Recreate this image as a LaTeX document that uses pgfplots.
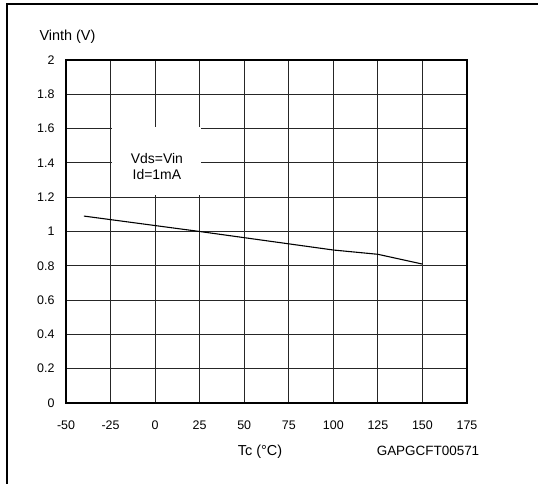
\documentclass[border=0pt]{standalone}
\usepackage{pgfplots}
\pgfplotsset{compat=1.18}
\usepackage{fontspec}
\setmainfont{Liberation Sans}
\begin{document}
\begin{tikzpicture}[x=1bp,y=1bp]
\useasboundingbox (0,0) rectangle (538,484);
\draw[line width=1.8bp] (7,0) -- (7,480) -- (538,480);
\begin{axis}[at={(66bp,81bp)}, anchor=south west, scale only axis,
  width=401bp, height=343bp,
  xmin=-50, xmax=175, ymin=0, ymax=2,
  xtick={-50,-25,0,25,50,75,100,125,150,175},
  xticklabels={-50,-25,0,25,50,75,100,125,150,175},
  ytick={0,0.2,0.4,0.6,0.8,1,1.2,1.4,1.6,1.8,2},
  yticklabels={0,0.2,0.4,0.6,0.8,1,1.2,1.4,1.6,1.8,2},
  major tick length=0pt,
  grid=major,
  major grid style={black!85, line width=0.9bp},
  axis line style={line width=1.5bp},
  tick label style={font=\fontsize{12.5}{14}\selectfont},
  xticklabel style={yshift=-14bp},
  yticklabel style={xshift=-8bp},
]
\addplot[black, line width=1.1bp, mark=none] coordinates {
  (-40,1.09) (25,1.0) (100,0.892) (125,0.867) (150,0.81)
};
\fill[white] (axis cs:-24.3,1.21) rectangle (axis cs:26,1.608);
\node[align=center, font=\fontsize{14}{16}\selectfont] at (axis cs:1,1.38) {Vds=Vin\\[0bp]Id=1mA};
\end{axis}
\node[anchor=base west, font=\fontsize{14.5}{16}\selectfont] at (36,443) {Vinth (V)};
\node[anchor=base, font=\fontsize{14.5}{16}\selectfont] at (260,28) {Tc (°C)};
\node[anchor=base, font=\fontsize{13.5}{15}\selectfont] at (428,28) {GAPGCFT00571};
\end{tikzpicture}
\end{document}
